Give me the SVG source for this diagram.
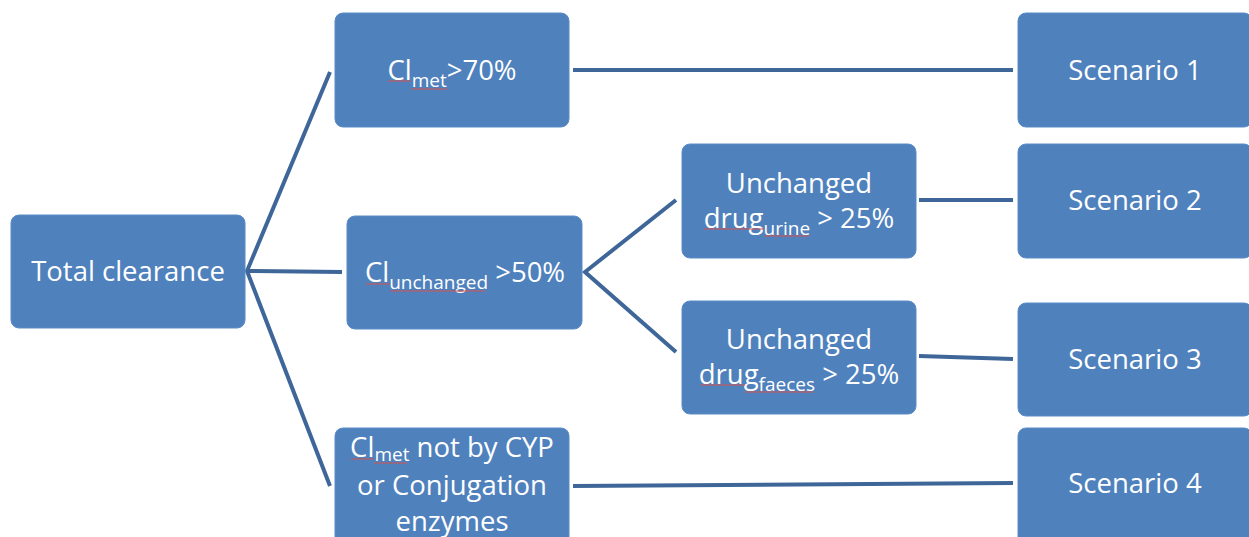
<svg xmlns="http://www.w3.org/2000/svg" width="1249" height="537" viewBox="0 0 1249 537">
<style>
.box{fill:#4F81BD;stroke:#5B8CC6;stroke-width:1}
.t{font-family:"Open Sans","Noto Sans","Liberation Sans",sans-serif;font-size:27.5px;fill:#FFFFFF;text-anchor:middle}
.sub{font-size:19px}
.con{stroke:#3F6699;stroke-width:4;fill:none;stroke-linecap:butt}
.sp{stroke:#D9534F;stroke-width:1;fill:none}
</style>
<rect width="1249" height="537" fill="#FFFFFF"/>
<g id="connectors">
<path class="con" d="M330,72 L247,271 L330,486"/>
<path class="con" d="M247,271 L342,272"/>
<path class="con" d="M573,70 L1013,70"/>
<path class="con" d="M676,200 L585,272 L676,352"/>
<path class="con" d="M919,200 L1013,200"/>
<path class="con" d="M919,356 L1013,359"/>
<path class="con" d="M573,486 L1013,483"/>
</g>
<g id="total">
<rect class="box" x="11" y="215" width="234" height="113" rx="8"/>
<text class="t" x="128" y="281">Total clearance</text>
</g>
<g id="clmet">
<rect class="box" x="335" y="13" width="234" height="114" rx="8"/>
<text class="t" x="452" y="80">Cl<tspan class="sub" dy="7">met</tspan><tspan dy="-7">&gt;70%</tspan></text>
<path class="sp" d="M388,81 L411,81 M411,89 L447,89"/>
</g>
<g id="clunchanged">
<rect class="box" x="347" y="216" width="235" height="113" rx="8"/>
<text class="t" x="465" y="282">Cl<tspan class="sub" dy="7">unchanged</tspan><tspan dy="-7"> &gt;50%</tspan></text>
<path class="sp" d="M366,284 L390,284 M390,291 L485,291"/>
</g>
<g id="urine">
<rect class="box" x="682" y="144" width="234" height="114" rx="8"/>
<text class="t" x="799" y="193">Unchanged</text>
<text class="t" x="799" y="228">drug<tspan class="sub" dy="7">urine</tspan><tspan dy="-7"> &gt; 25%</tspan></text>
<path class="sp" d="M704,229 L764,229 M764,236 L809,236"/>
</g>
<g id="faeces">
<rect class="box" x="682" y="301" width="234" height="113" rx="8"/>
<text class="t" x="799" y="349">Unchanged</text>
<text class="t" x="799" y="384">drug<tspan class="sub" dy="7">faeces</tspan><tspan dy="-7"> &gt; 25%</tspan></text>
<path class="sp" d="M700,385 L745,385 M745,392 L813,392"/>
</g>
<g id="clmet-not">
<rect class="box" x="335" y="428" width="234" height="120" rx="8"/>
<text class="t" x="452" y="457" font-size="26.5">Cl<tspan class="sub" dy="4" font-size="17">met</tspan><tspan dy="-4"> not by CYP</tspan></text>
<text class="t" x="452" y="495" font-size="26.5">or Conjugation</text>
<text class="t" x="452" y="531" font-size="26.5">enzymes</text>
<path class="sp" d="M351,459 L374,459 M374,463 L407,463"/>
</g>
<g id="s1">
<rect class="box" x="1018" y="13" width="234" height="114" rx="8"/>
<text class="t" x="1135" y="80">Scenario 1</text>
</g>
<g id="s2">
<rect class="box" x="1018" y="144" width="234" height="114" rx="8"/>
<text class="t" x="1135" y="210">Scenario 2</text>
</g>
<g id="s3">
<rect class="box" x="1018" y="303" width="234" height="113" rx="8"/>
<text class="t" x="1135" y="369">Scenario 3</text>
</g>
<g id="s4">
<rect class="box" x="1018" y="428" width="234" height="120" rx="8"/>
<text class="t" x="1135" y="493">Scenario 4</text>
</g>
</svg>
